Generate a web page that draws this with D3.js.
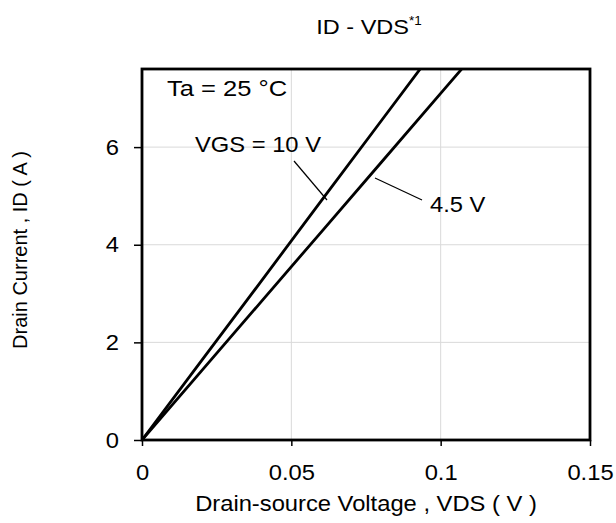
<!DOCTYPE html>
<html>
<head>
<meta charset="utf-8">
<script src="https://cdn.jsdelivr.net/npm/d3@7"></script>
<style>
  body { margin: 0; background: #fff; }
  text { font-family: "Liberation Sans", Arial, sans-serif; fill: #000; }
</style>
</head>
<body>
<div id="chart"></div>
<script>
// VDS (V) / ID (A)
const vds10 = [0, 0.02, 0.04, 0.06, 0.08, 0.1];
const id10 = [0, 1.63, 3.26, 4.9, 6.53, 8.16];
const vds45 = [0, 0.02, 0.04, 0.06, 0.08, 0.1, 0.12];
const id45 = [0, 1.42, 2.84, 4.26, 5.68, 7.1, 8.52];

const xTicks = [0, 0.05, 0.1, 0.15];
const xTickLabels = ['0', '0.05', '0.1', '0.15'];
const yTicks = [0, 2, 4, 6];

const width = 616, height = 523;
const margins = { left: 142, right: 26, top: 69, bottom: 83 };
const FONT = 22;
const SX = 1.08; // the source text is a little wider than Arial

const svg = d3.select('#chart')
  .append('svg')
    .attr('width', width)
    .attr('height', height);

// widen text horizontally around its own x anchor
function stretch(sel, k) {
  sel.each(function() {
    const t = d3.select(this);
    const x0 = +t.attr('x') || 0;
    t.attr('transform', 'translate(' + x0 + ',0) scale(' + k + ',1) translate(' + (-x0) + ',0)');
  });
}

const x = d3.scaleLinear()
  .domain([0, 0.15])
  .range([margins.left, width - margins.right]);

const y = d3.scaleLinear()
  .domain([0, 7.6])
  .range([height - margins.bottom, margins.top]);

// grid
svg.append('g')
  .selectAll('line.vgrid')
  .data(xTicks.slice(1, -1))
  .enter()
  .append('line')
    .attr('x1', d => x(d)).attr('x2', d => x(d))
    .attr('y1', y(0)).attr('y2', y(7.6))
    .attr('stroke', '#d9d9d9')
    .attr('stroke-width', 1);

svg.append('g')
  .selectAll('line.hgrid')
  .data(yTicks.slice(1))
  .enter()
  .append('line')
    .attr('x1', x(0)).attr('x2', x(0.15))
    .attr('y1', d => y(d)).attr('y2', d => y(d))
    .attr('stroke', '#d9d9d9')
    .attr('stroke-width', 1);

// axes
const xAxis = d3.axisBottom(x)
  .tickValues(xTicks)
  .tickFormat((d, i) => xTickLabels[i])
  .tickSize(6)
  .tickPadding(18);

const gx = svg.append('g')
  .attr('transform', 'translate(0,' + y(0) + ')')
  .call(xAxis);
gx.select('.domain').remove();
gx.selectAll('line').attr('stroke', '#000').attr('stroke-width', 1.5);
gx.selectAll('text').attr('font-size', FONT).call(stretch, SX);

const yAxis = d3.axisLeft(y)
  .tickValues(yTicks)
  .tickSize(8)
  .tickPadding(15);

const gy = svg.append('g')
  .attr('transform', 'translate(' + x(0) + ',0)')
  .call(yAxis);
gy.select('.domain').remove();
gy.selectAll('line').attr('stroke', '#000').attr('stroke-width', 1.5);
gy.selectAll('text').attr('font-size', FONT).call(stretch, SX);

// curves
svg.append('clipPath')
    .attr('id', 'plot-clip')
  .append('rect')
    .attr('x', x(0)).attr('y', y(7.6))
    .attr('width', x(0.15) - x(0))
    .attr('height', y(0) - y(7.6));

const line = d3.line()
  .x(d => x(d[0]))
  .y(d => y(d[1]));

const series = [
  d3.zip(vds10, id10),
  d3.zip(vds45, id45)
];

svg.append('g')
    .attr('clip-path', 'url(#plot-clip)')
  .selectAll('path')
  .data(series)
  .enter()
  .append('path')
    .attr('d', line)
    .attr('fill', 'none')
    .attr('stroke', '#000')
    .attr('stroke-width', 2.8);

// frame
svg.append('rect')
  .attr('x', x(0)).attr('y', y(7.6))
  .attr('width', x(0.15) - x(0))
  .attr('height', y(0) - y(7.6))
  .attr('fill', 'none')
  .attr('stroke', '#000')
  .attr('stroke-width', 2.8);

// annotations
svg.append('text')
  .attr('x', 167).attr('y', 96)
  .attr('font-size', FONT)
  .text('Ta = 25 \u00B0C')
  .call(stretch, 1.16);

svg.append('text')
  .attr('x', 195).attr('y', 152)
  .attr('font-size', FONT)
  .text('VGS = 10 V')
  .call(stretch, SX);

svg.append('line')
  .attr('x1', 294).attr('y1', 161)
  .attr('x2', 327).attr('y2', 200)
  .attr('stroke', '#000').attr('stroke-width', 1.2);

svg.append('text')
  .attr('x', 430).attr('y', 212)
  .attr('font-size', FONT)
  .text('4.5 V')
  .call(stretch, SX);

svg.append('line')
  .attr('x1', 375).attr('y1', 178)
  .attr('x2', 422).attr('y2', 200)
  .attr('stroke', '#000').attr('stroke-width', 1.2);

// title
const title = svg.append('text')
  .attr('x', 369).attr('y', 34)
  .attr('text-anchor', 'middle')
  .attr('font-size', 21);
title.append('tspan').text('ID - VDS');
title.append('tspan')
  .attr('font-size', 12)
  .attr('dy', -9)
  .text('*1');
title.call(stretch, 1.12);

// axis labels
svg.append('text')
  .attr('x', x(0.075)).attr('y', 511)
  .attr('text-anchor', 'middle')
  .attr('font-size', FONT)
  .text('Drain-source Voltage , VDS ( V )')
  .call(stretch, SX);

svg.append('text')
  .attr('transform', 'translate(27,250) rotate(-90)')
  .attr('text-anchor', 'middle')
  .attr('font-size', 20)
  .text('Drain Current , ID ( A )');
</script>
</body>
</html>
